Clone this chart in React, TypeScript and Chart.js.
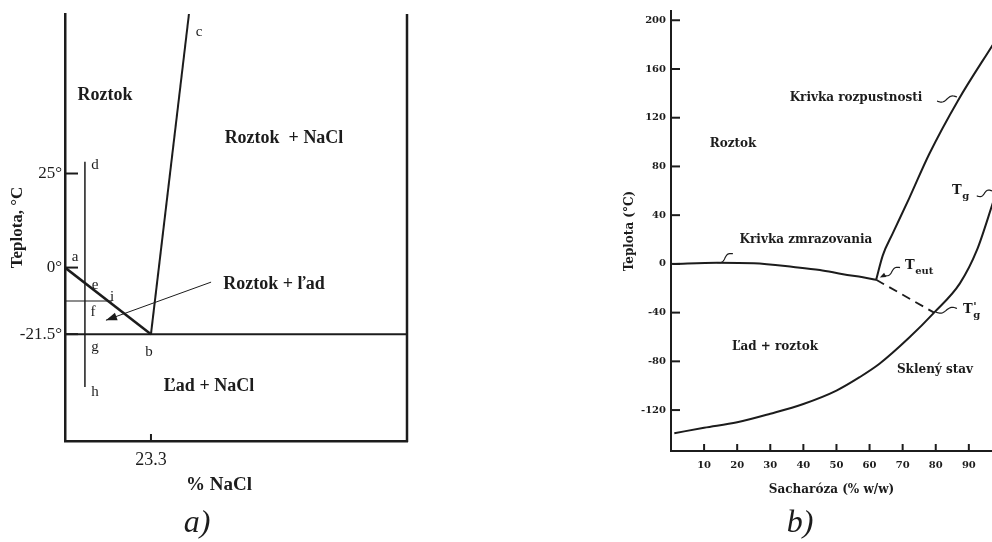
import React, { useEffect, useRef } from 'react';
import { Chart, registerables, LinearScale } from 'chart.js';

Chart.register(...registerables);

// ---------------- (a) NaCl – voda (schematic) ----------------
const naclLiquidusX = [0, 23.3];
const naclLiquidusY = [0, -21.5];
const naclSolubilityX = [23.3, 33.6];
const naclSolubilityY = [-21.5, 67.4];
const naclEutecticX = [0, 92.7];
const naclEutecticY = [-21.5, -21.5];
const naclPathX = [5.4, 5.4];
const naclPathY = [28.1, -38.6];
const naclTieX = [0, 12.7];
const naclTieY = [-10.8, -10.8];
const naclArrowX = [39.6, 11.1];
const naclArrowY = [-4.7, -17.0];
const naclYTicks = [25, 0, -21.5];
const naclYTickLabels = ['25°', '0°', '-21.5°'];
const naclXTicks = [23.3];
const naclXTickLabels = ['23.3'];

// ---------------- (b) Sacharóza – voda ----------------
const sucFreezeX = [0.5, 14, 25, 37, 45, 52, 58, 62];
const sucFreezeY = [0, 1, 0.5, -2.5, -5, -8.5, -11, -13];
const sucSolubX = [62, 64, 67, 72, 78, 86.7, 97.5];
const sucSolubY = [-13, 7, 25, 54, 90, 134, 181];
const sucGlassX = [1, 10, 20, 30, 40, 50, 57, 63, 72, 79.5, 87.3, 92.4, 97.5];
const sucGlassY = [-139, -134.5, -130, -123, -115, -104, -93, -82, -60.5, -40, -16, 11, 52];
const sucDashX = [62, 79.5];
const sucDashY = [-13, -40];
const sucYTicks = [200, 160, 120, 80, 40, 0, -40, -80, -120];
const sucXTicks = [10, 20, 30, 40, 50, 60, 70, 80, 90];

const INK = '#1c1c1c';
const SERIF_A = '"Liberation Serif", "Times New Roman", serif';
const SERIF_B = '"DejaVu Serif", serif';

// schematic (non-linear) temperature axis of diagram (a)
const NEG_COMPRESS = 17.7 / 21.5;
const warp = (v: number) => (v >= 0 ? v : v * NEG_COMPRESS);
const unwarp = (d: number) => (d >= 0 ? d : d / NEG_COMPRESS);

class WarpScale extends (LinearScale as any) {
  static id = 'warpY';
  static defaults = (LinearScale as any).defaults;
  configure() {
    super.configure();
    (this as any)._startValue = warp((this as any).min);
    (this as any)._endValue = warp((this as any).max);
    (this as any)._valueRange = (this as any)._endValue - (this as any)._startValue;
  }
  getPixelForValue(v: any) {
    if (v === null || v === undefined) return NaN;
    const s: any = this;
    return s.getPixelForDecimal((warp(+v) - s._startValue) / s._valueRange);
  }
  getValueForPixel(p: number) {
    const s: any = this;
    return unwarp(s._startValue + s.getDecimalForPixel(p) * s._valueRange);
  }
}
Chart.register(WarpScale as any);

const pts = (xs: number[], ys: number[]) => xs.map((x, i) => ({ x, y: ys[i] }));

type TextItem = {
  text: string; x: number; y: number; font: string;
  align?: CanvasTextAlign; rotate?: number; sub?: string; sup?: string; subFont?: string; supFont?: string;
};

type Leader = { x0: number; y0: number; x1: number; y1: number; arrow?: boolean };

function drawArrowHead(ctx: CanvasRenderingContext2D, fx: number, fy: number, tx: number, ty: number, len: number, hw: number) {
  const a = Math.atan2(ty - fy, tx - fx);
  ctx.beginPath();
  ctx.moveTo(tx, ty);
  ctx.lineTo(tx - len * Math.cos(a) + hw * Math.sin(a), ty - len * Math.sin(a) - hw * Math.cos(a));
  ctx.lineTo(tx - len * Math.cos(a) - hw * Math.sin(a), ty - len * Math.sin(a) + hw * Math.cos(a));
  ctx.closePath();
  ctx.fill();
}

function makeDecorPlugin(opts: {
  texts: TextItem[];
  leaders?: Leader[];
  xTickLen: number; yTickLen: number; tickWidth: number;
  rightFrame?: boolean; frameWidth?: number;
}) {
  return {
    id: 'decor',
    afterDatasetsDraw(chart: any) {
      const ctx: CanvasRenderingContext2D = chart.ctx;
      const ca = chart.chartArea;
      const xs = chart.scales.x;
      const ys = chart.scales.y;
      ctx.save();
      ctx.strokeStyle = INK;
      ctx.fillStyle = INK;
      if (opts.rightFrame) {
        ctx.lineWidth = opts.frameWidth || 2;
        ctx.beginPath();
        ctx.moveTo(ca.right, ca.top);
        ctx.lineTo(ca.right, ca.bottom + 1);
        ctx.stroke();
      }
      // inward tick marks
      ctx.lineWidth = opts.tickWidth;
      ys.ticks.forEach((t: any) => {
        const py = ys.getPixelForValue(t.value);
        ctx.beginPath();
        ctx.moveTo(ca.left, py);
        ctx.lineTo(ca.left + opts.yTickLen, py);
        ctx.stroke();
      });
      xs.ticks.forEach((t: any) => {
        const px = xs.getPixelForValue(t.value);
        ctx.beginPath();
        ctx.moveTo(px, ca.bottom);
        ctx.lineTo(px, ca.bottom - opts.xTickLen);
        ctx.stroke();
      });
      // arrow heads on datasets
      chart.data.datasets.forEach((ds: any, i: number) => {
        if (!ds.arrowHead) return;
        const m = chart.getDatasetMeta(i).data;
        const a = m[m.length - 2], b = m[m.length - 1];
        drawArrowHead(ctx, a.x, a.y, b.x, b.y, 11, 4);
      });
      // squiggle leaders
      (opts.leaders || []).forEach((l) => {
        const x0 = xs.getPixelForValue(l.x0), y0 = ys.getPixelForValue(l.y0);
        const x1 = xs.getPixelForValue(l.x1), y1 = ys.getPixelForValue(l.y1);
        const dx = x1 - x0, dy = y1 - y0;
        const len = Math.hypot(dx, dy);
        const nx = -dy / len, ny = dx / len;
        ctx.lineWidth = 1.2;
        ctx.beginPath();
        const end = l.arrow ? 0.8 : 1;
        for (let k = 0; k <= 24; k++) {
          const t = (k / 24) * end;
          const w = 2 * Math.sin(2 * Math.PI * t / end);
          const px = x0 + dx * t + nx * w;
          const py = y0 + dy * t + ny * w;
          if (k === 0) ctx.moveTo(px, py); else ctx.lineTo(px, py);
        }
        ctx.stroke();
        if (l.arrow) drawArrowHead(ctx, x0 + dx * 0.7, y0 + dy * 0.7, x1, y1, 6, 2.5);
      });
      // texts
      ctx.textBaseline = 'middle';
      opts.texts.forEach((t) => {
        ctx.save();
        ctx.translate(t.x, t.y);
        if (t.rotate) ctx.rotate(t.rotate);
        ctx.font = t.font;
        ctx.textAlign = t.align || 'center';
        ctx.fillText(t.text, 0, 0);
        const w = ctx.measureText(t.text).width;
        if (t.sup) {
          ctx.font = t.supFont || t.subFont || t.font;
          ctx.textAlign = 'left';
          ctx.fillText(t.sup, w + 0.5, -3);
        }
        if (t.sub) {
          ctx.font = t.subFont || t.font;
          ctx.textAlign = 'left';
          ctx.fillText(t.sub, w + 0.5, 5);
        }
        ctx.restore();
      });
      ctx.restore();
    },
  };
}

const lineDs = (data: any[], width: number, extra: any = {}) => ({
  type: 'line',
  data,
  borderColor: INK,
  borderWidth: width,
  pointRadius: 0,
  fill: false,
  tension: 0,
  ...extra,
});

function leftConfig(): any {
  const fA = (size: number, weight = 'bold') => `${weight} ${size}px ${SERIF_A}`;
  const texts: TextItem[] = [
    { text: 'Roztok', x: 105, y: 95, font: fA(18) },
    { text: 'Roztok  + NaCl', x: 284, y: 138, font: fA(18) },
    { text: 'Roztok + ľad', x: 274, y: 284, font: fA(18) },
    { text: 'Ľad + NaCl', x: 209, y: 386, font: fA(18) },
    { text: '% NaCl', x: 219, y: 485, font: fA(19) },
    { text: 'a)', x: 197, y: 524, font: `italic 32px ${SERIF_A}` },
    { text: 'a', x: 75, y: 257, font: fA(15, 'normal') },
    { text: 'd', x: 95, y: 165, font: fA(15, 'normal') },
    { text: 'c', x: 199, y: 32, font: fA(15, 'normal') },
    { text: 'e', x: 95, y: 285, font: fA(15, 'normal') },
    { text: 'i', x: 112, y: 297, font: fA(15, 'normal') },
    { text: 'f', x: 93, y: 312, font: fA(15, 'normal') },
    { text: 'g', x: 95, y: 347, font: fA(15, 'normal') },
    { text: 'b', x: 149, y: 352, font: fA(15, 'normal') },
    { text: 'h', x: 95, y: 392, font: fA(15, 'normal') },
  ];
  return {
    type: 'line',
    data: {
      datasets: [
        lineDs(pts(naclLiquidusX, naclLiquidusY), 2.5),
        lineDs(pts(naclSolubilityX, naclSolubilityY), 2),
        lineDs(pts(naclEutecticX, naclEutecticY), 2),
        lineDs(pts(naclPathX, naclPathY), 1.5),
        lineDs(pts(naclTieX, naclTieY), 1.2),
        lineDs(pts(naclArrowX, naclArrowY), 1, { arrowHead: true }),
      ],
    },
    options: {
      responsive: false,
      animation: false,
      events: [],
      layout: { padding: { top: 14, right: 23, left: 0, bottom: 0 } },
      plugins: { legend: { display: false }, tooltip: { enabled: false } },
      scales: {
        x: {
          type: 'linear', min: 0, max: 92.7,
          grid: { display: false, drawTicks: false },
          border: { display: true, width: 2.5, color: INK },
          afterFit: (s: any) => { s.height = 101; },
          afterBuildTicks: (s: any) => { s.ticks = naclXTicks.map((v) => ({ value: v })); },
          ticks: {
            autoSkip: false, maxRotation: 0, padding: 8, color: INK,
            font: { family: SERIF_A, size: 18 },
            callback: (_v: any, i: number) => naclXTickLabels[i],
          },
        },
        y: {
          type: 'warpY', min: -56, max: 67.4,
          grid: { display: false, drawTicks: false },
          border: { display: true, width: 2.5, color: INK },
          afterFit: (s: any) => { s.width = 65; },
          afterBuildTicks: (s: any) => { s.ticks = naclYTicks.map((v) => ({ value: v })); },
          ticks: {
            autoSkip: false, padding: 3, color: INK,
            font: { family: SERIF_A, size: 17 },
            callback: (_v: any, i: number) => naclYTickLabels[i],
          },
          title: {
            display: true, text: 'Teplota, °C', color: INK,
            font: { family: SERIF_A, size: 17, weight: 'bold' },
            padding: { top: 7, bottom: 0 },
          },
        },
      },
    },
    plugins: [makeDecorPlugin({ texts, xTickLen: 7, yTickLen: 13, tickWidth: 2, rightFrame: true, frameWidth: 2.5 })],
  };
}

function rightConfig(): any {
  const fB = (size: number) => `bold ${size}px ${SERIF_B}`;
  const texts: TextItem[] = [
    { text: 'Krivka rozpustnosti', x: 276, y: 98, font: fB(12) },
    { text: 'Roztok', x: 153, y: 144, font: fB(12) },
    { text: 'Krivka zmrazovania', x: 226, y: 240, font: fB(12) },
    { text: 'T', x: 325, y: 266, font: fB(13), align: 'left', sub: 'eut', subFont: fB(10) },
    { text: 'T', x: 372, y: 191, font: fB(13), align: 'left', sub: 'g', subFont: fB(10) },
    { text: 'T', x: 383, y: 310, font: fB(13), align: 'left', sub: 'g', sup: "'", subFont: fB(10), supFont: fB(11) },
    { text: 'Ľad + roztok', x: 195, y: 347, font: fB(12) },
    { text: 'Sklený stav', x: 355, y: 370, font: fB(12) },
    { text: 'b)', x: 220, y: 524, font: `italic 32px ${SERIF_A}` },
  ];
  const leaders: Leader[] = [
    { x0: 80.4, y0: 133.7, x1: 86.4, y1: 137.0 },
    { x0: 92.4, y0: 55.9, x1: 97.0, y1: 59.9 },
    { x0: 18.7, y0: 8.4, x1: 13.9, y1: 1.1 },
    { x0: 69.2, y0: -3.0, x1: 63.1, y1: -11.2, arrow: true },
    { x0: 86.4, y0: -36.6, x1: 80.0, y1: -39.5 },
  ];
  return {
    type: 'line',
    data: {
      datasets: [
        lineDs(pts(sucFreezeX, sucFreezeY), 2, { cubicInterpolationMode: 'monotone' }),
        lineDs(pts(sucSolubX, sucSolubY), 2, { cubicInterpolationMode: 'monotone' }),
        lineDs(pts(sucGlassX, sucGlassY), 2, { cubicInterpolationMode: 'monotone' }),
        lineDs(pts(sucDashX, sucDashY), 1.8, { borderDash: [9, 6] }),
      ],
    },
    options: {
      responsive: false,
      animation: false,
      events: [],
      layout: { padding: { top: 10, right: 0, left: 0, bottom: 0 } },
      plugins: { legend: { display: false }, tooltip: { enabled: false } },
      scales: {
        x: {
          type: 'linear', min: 0, max: 97,
          grid: { display: false, drawTicks: false },
          border: { display: true, width: 2, color: INK },
          afterFit: (s: any) => { s.height = 91; },
          afterBuildTicks: (s: any) => { s.ticks = sucXTicks.map((v) => ({ value: v })); },
          ticks: {
            autoSkip: false, maxRotation: 0, padding: 8, color: INK,
            font: { family: SERIF_B, size: 10, weight: 'bold' },
            callback: (v: any) => String(v),
          },
          title: {
            display: true, text: 'Sacharóza (% w/w)', color: INK,
            font: { family: SERIF_B, size: 12, weight: 'bold' },
            padding: { top: 0, bottom: 45 },
          },
        },
        y: {
          type: 'linear', min: -153.6, max: 207.6,
          grid: { display: false, drawTicks: false },
          border: { display: true, width: 2, color: INK },
          afterFit: (s: any) => { s.width = 91; },
          afterBuildTicks: (s: any) => { s.ticks = sucYTicks.map((v) => ({ value: v })); },
          ticks: {
            autoSkip: false, padding: 5, color: INK,
            font: { family: SERIF_B, size: 10, weight: 'bold' },
            callback: (v: any) => String(v),
          },
          title: {
            display: true, text: 'Teplota (°C)', color: INK,
            font: { family: SERIF_B, size: 12, weight: 'bold' },
            padding: { top: 43, bottom: 0 },
          },
        },
      },
    },
    plugins: [makeDecorPlugin({ texts, leaders, xTickLen: 7, yTickLen: 9, tickWidth: 2 })],
  };
}

function ChartCanvas({ makeConfig, width, height, left }: { makeConfig: () => any; width: number; height: number; left: number }) {
  const ref = useRef<HTMLCanvasElement>(null);
  useEffect(() => {
    if (!ref.current) return;
    const chart = new Chart(ref.current, makeConfig());
    return () => chart.destroy();
  }, []);
  return (
    <canvas
      ref={ref}
      width={width}
      height={height}
      style={{ position: 'absolute', left, top: 0, width, height }}
    />
  );
}

export default function App() {
  return (
    <div style={{ position: 'fixed', left: 0, top: 0, width: 992, height: 542, background: '#fff', overflow: 'hidden' }}>
      <ChartCanvas makeConfig={leftConfig} width={430} height={542} left={0} />
      <ChartCanvas makeConfig={rightConfig} width={412} height={542} left={580} />
    </div>
  );
}
